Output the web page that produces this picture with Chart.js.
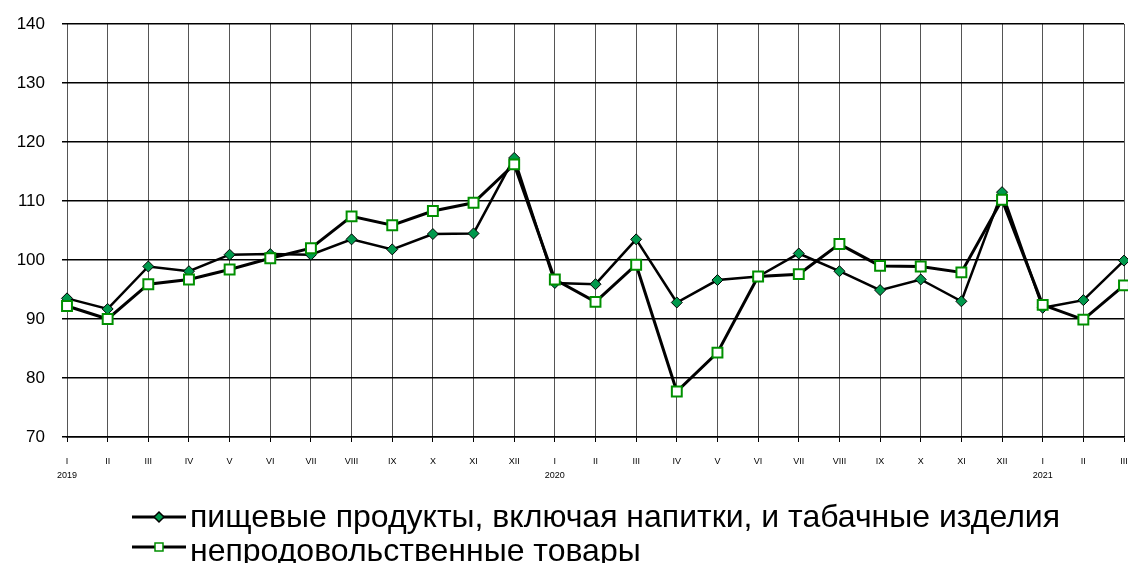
<!DOCTYPE html>
<html>
<head>
<meta charset="utf-8">
<script src="https://cdn.jsdelivr.net/npm/chart.js@4/dist/chart.umd.min.js"></script>
<style>
  html, body { margin: 0; padding: 0; background: #fff; overflow: hidden; }
</style>
</head>
<body>
<canvas id="priceChart" width="1128" height="563"></canvas>
<script>
// month labels (roman) and the year that sits under each January
const months = ['I','II','III','IV','V','VI','VII','VIII','IX','X','XI','XII',
                'I','II','III','IV','V','VI','VII','VIII','IX','X','XI','XII',
                'I','II','III'];
const years = ['2019','','','','','','','','','','','',
               '2020','','','','','','','','','','','',
               '2021','',''];

// пищевые продукты
const foodValues = [93.5, 91.7, 98.9, 98.1, 100.9, 101.0, 100.9, 103.5, 101.8, 104.4, 104.5, 117.3,
                    96.1, 95.9, 103.5, 92.8, 96.6, 97.2, 101.1, 98.1, 94.9, 96.7, 93.0, 111.5,
                    91.9, 93.2, 99.9];
// непродовольственные товары
const nonFoodValues = [92.2, 90.0, 95.9, 96.7, 98.4, 100.3, 102.0, 107.4, 105.9, 108.3, 109.7, 116.2,
                       96.7, 92.9, 99.2, 77.7, 84.3, 97.2, 97.6, 102.7, 99.0, 98.9, 97.9, 110.2,
                       92.4, 89.9, 95.7];

const seriesNames = ['пищевые продукты, включая напитки, и табачные изделия',
                     'непродовольственные товары'];

const labels = months.map((m, i) => [m, years[i]]);

// legend drawn Excel-style: line with marker in the middle
const bottomLegend = {
  id: 'bottomLegend',
  afterDraw(chart) {
    const ctx = chart.ctx;
    const lineY = [517, 547];
    const textY = [527, 561];
    chart.data.datasets.forEach((ds, i) => {
      const y = lineY[i];
      ctx.save();
      ctx.strokeStyle = '#000';
      ctx.lineWidth = 3;
      ctx.beginPath();
      ctx.moveTo(132, y);
      ctx.lineTo(186, y);
      ctx.stroke();
      ctx.fillStyle = ds.pointBackgroundColor;
      ctx.strokeStyle = ds.pointBorderColor;
      ctx.lineWidth = 1.5;
      ctx.beginPath();
      if (ds.pointStyle === 'rectRot') {
        ctx.moveTo(159, y - 5);
        ctx.lineTo(164, y);
        ctx.lineTo(159, y + 5);
        ctx.lineTo(154, y);
        ctx.closePath();
      } else {
        ctx.rect(155, y - 4, 8, 8);
      }
      ctx.fill();
      ctx.stroke();
      ctx.fillStyle = '#000';
      ctx.font = '32px "Liberation Sans", Arial, sans-serif';
      ctx.textBaseline = 'alphabetic';
      ctx.fillText(ds.label, 190, textY[i]);
      ctx.restore();
    });
  }
};

new Chart(document.getElementById('priceChart'), {
  type: 'line',
  data: {
    labels: labels,
    datasets: [
      {
        label: seriesNames[0],
        data: foodValues,
        borderColor: '#000',
        borderWidth: 2.5,
        pointStyle: 'rectRot',
        pointRadius: 5.5,
        pointBackgroundColor: '#00994c',
        pointBorderColor: '#000',
        pointBorderWidth: 1,
        tension: 0,
        clip: false,
        order: 1
      },
      {
        label: seriesNames[1],
        data: nonFoodValues,
        borderColor: '#000',
        borderWidth: 3,
        pointStyle: 'rect',
        pointRadius: 7,
        pointBackgroundColor: '#fff',
        pointBorderColor: '#009000',
        pointBorderWidth: 2,
        tension: 0,
        clip: false,
        order: 0
      }
    ]
  },
  options: {
    responsive: false,
    animation: false,
    devicePixelRatio: 1,
    layout: { autoPadding: false, padding: { top: 24, right: 4, bottom: 80, left: 0 } },
    plugins: {
      legend: { display: false },
      tooltip: { enabled: false }
    },
    scales: {
      x: {
        offset: false,
        afterFit: (s) => { s.height = 46; s.paddingLeft = 0; s.paddingRight = 0; },
        grid: { color: '#555', lineWidth: 1, tickLength: 5, tickColor: '#000' },
        border: { color: '#000', width: 1.5 },
        ticks: {
          autoSkip: false,
          maxRotation: 0,
          padding: 13,
          color: '#000',
          font: { family: '"Liberation Sans", Arial, sans-serif', size: 9, lineHeight: 1.55 }
        }
      },
      y: {
        min: 70,
        max: 140,
        afterFit: (s) => { s.width = 67; s.paddingTop = 0; s.paddingBottom = 0; },
        grid: { color: '#000', lineWidth: 1.5, tickLength: 5, tickColor: '#000' },
        border: { display: false },
        ticks: {
          stepSize: 10,
          padding: 17,
          color: '#000',
          font: { family: '"Liberation Sans", Arial, sans-serif', size: 17 }
        }
      }
    }
  },
  plugins: [bottomLegend]
});
</script>
</body>
</html>
